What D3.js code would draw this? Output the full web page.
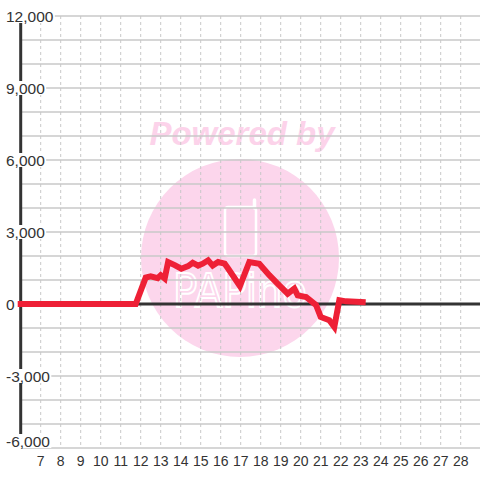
<!DOCTYPE html>
<html>
<head>
<meta charset="utf-8">
<script src="https://cdn.jsdelivr.net/npm/d3@7"></script>
<style>
  html, body { margin: 0; padding: 0; background: #fff; }
  svg { display: block; }
</style>
</head>
<body>
<svg id="chart" width="480" height="480"></svg>
<script>
// ---- data ----
const days = [6, 11.75, 12.25, 12.5, 12.85, 13.0, 13.2, 13.37, 13.7, 14.03, 14.37, 14.6, 14.87, 15.1, 15.37, 15.6, 15.87, 16.2, 16.37, 16.96, 17.43, 17.93, 18.43, 18.93, 19.35, 19.68, 19.85, 20.27, 20.77, 21.0, 21.43, 21.68, 21.93, 22.27, 23.1];
const values = [0, 0, 1100, 1150, 1080, 1200, 1060, 1750, 1620, 1470, 1580, 1720, 1600, 1680, 1820, 1600, 1750, 1680, 1480, 750, 1750, 1680, 1200, 780, 430, 640, 360, 290, -50, -540, -680, -960, 160, 110, 80];
const xTickLabels = d3.range(7, 29);
const yTickValues = [-6000, -3000, 0, 3000, 6000, 9000, 12000];
const yGridValues = d3.range(-6000, 12001, 1000);

const svg = d3.select("#chart");
const W = 480, H = 480;
const x = d3.scaleLinear().domain([6, 29]).range([20.7, 480.7]);
const y = d3.scaleLinear().domain([-6000, 12000]).range([448, 16]);

svg.append("rect").attr("width", W).attr("height", H).attr("fill", "#fff");

// ---- watermark ----
const wm = svg.append("g");
wm.append("circle").attr("cx", 240).attr("cy", 258).attr("r", 99).attr("fill", "#fcd6ec");
wm.append("text").attr("x", 242).attr("y", 145).attr("text-anchor", "middle")
  .attr("font-family", "Liberation Sans, Arial, sans-serif").attr("font-weight", "bold")
  .attr("font-style", "italic").attr("font-size", 33).attr("fill", "#fcd3ea").text("Powered by");
wm.append("rect").attr("x", 225).attr("y", 207).attr("width", 31).attr("height", 49).attr("rx", 3)
  .attr("fill", "none").attr("stroke", "#fff").attr("stroke-width", 2.5);
wm.append("line").attr("x1", 254.5).attr("y1", 200).attr("x2", 254.5).attr("y2", 208)
  .attr("stroke", "#fff").attr("stroke-width", 3.5).attr("stroke-linecap", "round");
wm.append("text").attr("x", 173).attr("y", 307)
  .attr("font-family", "DejaVu Sans, sans-serif").attr("font-size", 46)
  .attr("textLength", 134).attr("lengthAdjust", "spacingAndGlyphs")
  .attr("fill", "none").attr("stroke", "#fff").attr("stroke-width", 2).text("PAPino");

// ---- grid ----
svg.append("g").selectAll("line").data(yGridValues).join("line")
  .attr("x1", 20.7).attr("x2", W).attr("y1", d => y(d)).attr("y2", d => y(d))
  .attr("stroke", "#c8c8c8").attr("stroke-width", 1.3);
svg.append("g").selectAll("line").data(xTickLabels).join("line")
  .attr("x1", d => x(d)).attr("x2", d => x(d)).attr("y1", y(12000)).attr("y2", y(-6000))
  .attr("stroke", "#c8c8c8").attr("stroke-width", 1).attr("stroke-dasharray", "3,3");

// ---- axis lines ----
svg.append("line").attr("x1", x(6)).attr("x2", W).attr("y1", y(0)).attr("y2", y(0))
  .attr("stroke", "#333").attr("stroke-width", 3);
svg.append("line").attr("x1", x(6)).attr("x2", x(6)).attr("y1", y(12000)).attr("y2", y(-6000))
  .attr("stroke", "#333").attr("stroke-width", 3);

// ---- series ----
const line = d3.line().x(d => x(d[0])).y(d => y(d[1]));
svg.append("path").datum(days.map((d, i) => [d, values[i]]))
  .attr("d", line).attr("fill", "none").attr("stroke", "#ee2036")
  .attr("stroke-width", 6).attr("stroke-linejoin", "miter").attr("stroke-linecap", "square");

// ---- y labels ----
const fmt = v => d3.format(",")(v).replace("\u2212", "-");
const yl = svg.append("g");
yTickValues.forEach(v => {
  const g = yl.append("g");
  const cy = Math.min(y(v), 441);
  const t = g.append("text").attr("x", 6).attr("y", cy).attr("dy", "0.36em")
    .attr("font-family", "Liberation Sans, Arial, sans-serif").attr("font-size", 15.5)
    .attr("fill", "#333").text(fmt(v));
  const bb = t.node().getBBox();
  g.insert("rect", "text").attr("x", bb.x - 1).attr("y", cy - 7).attr("width", bb.width + 2)
    .attr("height", 14).attr("fill", "#fff");
});

// ---- x labels ----
svg.append("g").selectAll("text").data(xTickLabels).join("text")
  .attr("x", d => x(d)).attr("y", 466).attr("text-anchor", "middle")
  .attr("font-family", "Liberation Sans, Arial, sans-serif").attr("font-size", 14)
  .attr("fill", "#333").text(d => d);
</script>
</body>
</html>
